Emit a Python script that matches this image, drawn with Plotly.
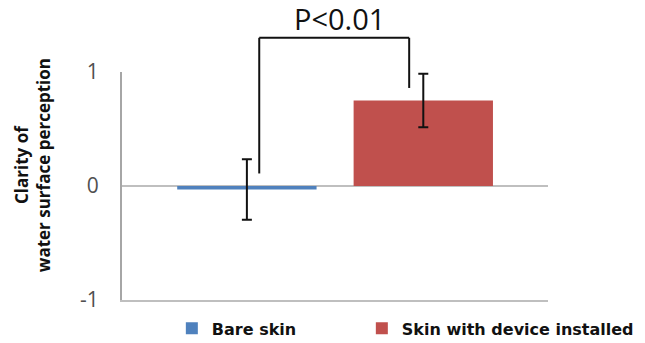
import plotly.graph_objects as go

categories = ["Bare skin", "Skin with device installed"]
means = [-0.03, 0.75]
errors = [0.265, 0.235]
colors = ["#4F81BD", "#C0504D"]
y_ticks = [-1, 0, 1]
p_label = "P<0.01"
y_title = "Clarity of<br>water surface perception"

# bracket levels in data units
bracket_left_end = 0.11
bracket_right_end = 0.86
bracket_top = 1.30
bracket_x = [0.07, 0.92]

ymin, ymax = -1, 1
def paper(v):
    return (v - ymin) / (ymax - ymin)

FONT = "DejaVu Sans"
FONT2 = "Open Sans"
fig = go.Figure()
legend_names = ["legend", "legend2"]
for i, (c, m, e, col) in enumerate(zip(categories, means, errors, colors)):
    fig.add_trace(go.Bar(
        x=[c], y=[m], name=c, marker=dict(color=col, line=dict(width=0)),
        width=0.79, showlegend=True,
        error_y=dict(type="data", array=[e], color="#111111", thickness=2, width=5),
        legend=legend_names[i],
    ))

shape_line = dict(color="#111111", width=2)
fig.add_shape(type="line", xref="x", yref="paper", x0=bracket_x[0], x1=bracket_x[0],
              y0=paper(bracket_left_end), y1=paper(bracket_top), line=shape_line)
fig.add_shape(type="line", xref="x", yref="paper", x0=bracket_x[0], x1=bracket_x[1],
              y0=paper(bracket_top), y1=paper(bracket_top), line=shape_line)
fig.add_shape(type="line", xref="x", yref="paper", x0=bracket_x[1], x1=bracket_x[1],
              y0=paper(bracket_right_end), y1=paper(bracket_top), line=shape_line)
fig.add_annotation(x=sum(bracket_x) / 2, xref="x", y=paper(bracket_top), yref="paper",
                   yanchor="bottom", text=p_label, showarrow=False, yshift=-2, xshift=5,
                   font=dict(family=FONT2, size=29, color="#111111"))
# y-axis title (placed as annotation to match the reference offset)
fig.add_annotation(x=-0.211, xref="paper", y=0.592, yref="paper", xanchor="center",
                   yanchor="middle", textangle=-90, text=y_title, showarrow=False,
                   font=dict(family=FONT2, size=17, color="#111111", weight="bold"))

legend_font = dict(family=FONT, size=16, color="#111111", weight="bold")
fig.update_layout(
    width=645, height=343,
    margin=dict(l=122, r=97, t=72, b=43, autoexpand=False),
    plot_bgcolor="white", paper_bgcolor="white",
    barmode="overlay", showlegend=True,
    font=dict(family=FONT, color="#333333"),
    xaxis=dict(range=[-0.708, 1.707], showticklabels=False, showgrid=False,
               zeroline=False, showline=True, linecolor="#BFBFBF", linewidth=2,
               automargin=False),
    yaxis=dict(range=[ymin, ymax], tickvals=y_ticks, ticktext=[str(t) for t in y_ticks],
               showgrid=True, gridcolor="#BFBFBF", gridwidth=1.5, zeroline=False,
               showline=True, linecolor="#A6A6A6", linewidth=2, ticks="",
               ticklabelstandoff=17, automargin=False,
               tickfont=dict(family=FONT2, size=21, color="#505050")),
    legend=dict(x=0.117, y=-0.05, xanchor="left", yanchor="top", orientation="h",
                font=legend_font, bgcolor="rgba(0,0,0,0)"),
    legend2=dict(x=0.563, y=-0.05, xanchor="left", yanchor="top", orientation="h",
                 font=legend_font, bgcolor="rgba(0,0,0,0)"),
)

fig.write_html("out.html", config={"displayModeBar": False},
               post_script="document.body.style.margin='0';")
